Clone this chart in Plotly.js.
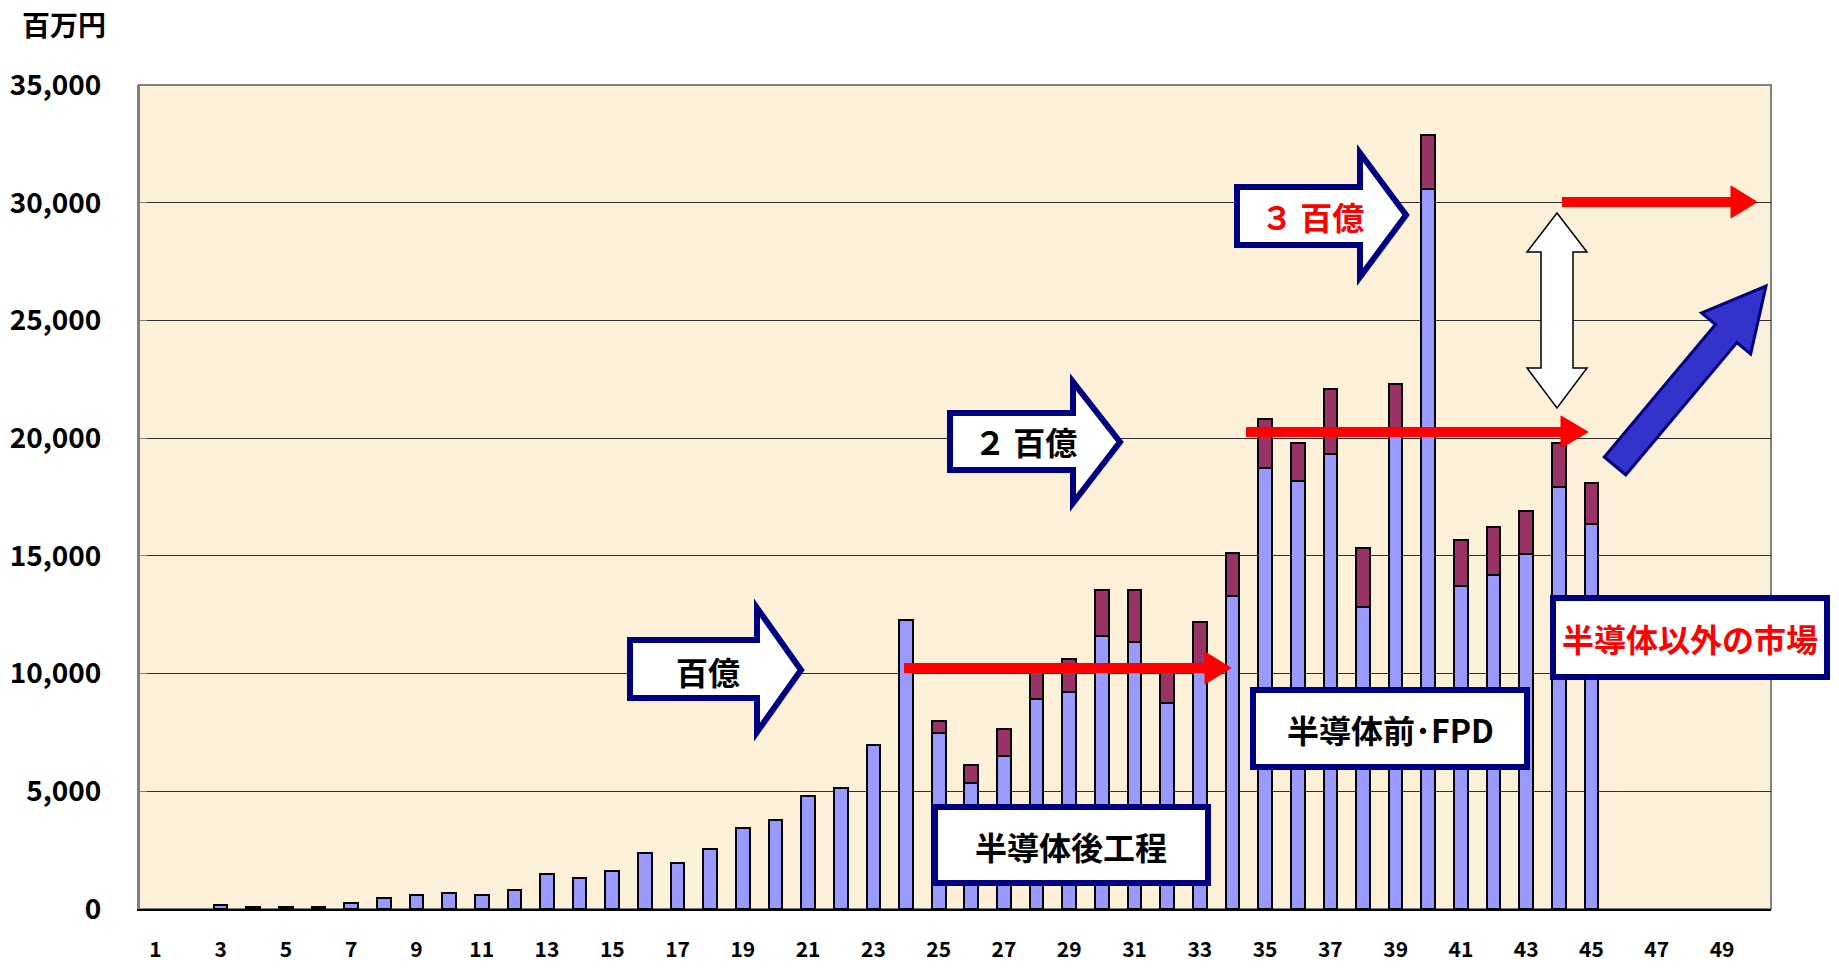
<!DOCTYPE html>
<html>
<head>
<meta charset="utf-8">
<script src="https://cdn.plot.ly/plotly-3.0.1.min.js"></script>
<style>html,body{margin:0;padding:0;background:#fff;}#chart{width:1839px;height:968px;}</style>
</head>
<body>
<div id="chart"></div>
<script>
// ---- data ----
const categories = [1,2,3,4,5,6,7,8,9,10,11,12,13,14,15,16,17,18,19,20,21,22,23,24,25,26,27,28,29,30,31,32,33,34,35,36,37,38,39,40,41,42,43,44,45,46,47,48,49,50];
const semiFpdValues = [null,null,150,100,100,100,250,450,600,700,600,800,1500,1300,1600,2400,1950,2550,3440,3770,4790,5130,6950,12280,7480,5350,6480,8900,9220,11600,11350,8750,10300,13300,18740,18180,19340,12810,20080,30570,13720,14190,15080,17910,16350,null,null,null,null,null];
const otherMarketValues = [null,null,null,null,null,null,null,null,null,null,null,null,null,null,null,null,null,null,null,null,null,null,null,null,490,780,1160,1300,1380,1940,2190,1450,1900,1840,2090,1620,2730,2510,2200,2290,1960,2050,1840,1870,1750,null,null,null,null,null];
const tickValues = [1,3,5,7,9,11,13,15,17,19,21,23,25,27,29,31,33,35,37,39,41,43,45,47,49];
const tickLabels = ['1','3','5','7','9','11','13','15','17','19','21','23','25','27','29','31','33','35','37','39','41','43','45','47','49'];
const yTickValues = [0,5000,10000,15000,20000,25000,30000,35000];
const yTickLabels = ['0','5,000','10,000','15,000','20,000','25,000','30,000','35,000'];

// ---- layout geometry (pixels of the 1839x968 figure) ----
const W = 1839, H = 968;
const PL = 139, PR = 1771, PT = 85, PB = 909;
function px(x){ return (x - PL) / (PR - PL); }
function py(y){ return (PB - y) / (PB - PT); }
function pathFrom(pts){
  return 'M ' + pts.map(p => px(p[0]).toFixed(5) + ',' + py(p[1]).toFixed(5)).join(' L ') + ' Z';
}
function blockArrow(bx0, hx, by0, by1, hy0, hy1, tx, ty){
  return pathFrom([[bx0,by0],[hx,by0],[hx,hy0],[tx,ty],[hx,hy1],[hx,by1],[bx0,by1]]);
}
const FONT = '"Noto Sans CJK JP", "Noto Sans", sans-serif';
const NAVY = '#000080';

const shapes = [];
// plot border
shapes.push({type:'rect', xref:'paper', yref:'paper', x0:0, x1:1, y0:0, y1:1, line:{color:'#808080', width:2}, layer:'below'});

// block arrows
function addBlock(path){ shapes.push({type:'path', xref:'paper', yref:'paper', path:path, fillcolor:'#ffffff', line:{color:NAVY, width:6}}); }
addBlock(blockArrow(630, 757, 640, 698, 608, 732, 801, 670));
addBlock(blockArrow(950, 1073, 413, 470, 382, 503, 1120, 442));
addBlock(blockArrow(1237, 1360, 187, 245, 153, 277, 1406, 215));

// boxes
function addBox(x0,y0,x1,y1){ shapes.push({type:'rect', xref:'paper', yref:'paper', x0:px(x0), x1:px(x1), y0:py(y1), y1:py(y0), fillcolor:'#ffffff', line:{color:NAVY, width:6}}); }
addBox(935, 807, 1208, 883);
addBox(1253, 690, 1527, 767);
addBox(1553, 598, 1827, 677);

// red arrows
function addRed(x0, x1, y, headBack){
  shapes.push({type:'line', xref:'paper', yref:'paper', x0:px(x0), x1:px(headBack+4), y0:py(y), y1:py(y), line:{color:'#ff0000', width:10}});
  shapes.push({type:'path', xref:'paper', yref:'paper', path:pathFrom([[headBack, y-16],[x1, y],[headBack, y+16]]), fillcolor:'#ff0000', line:{color:'#ff0000', width:1}});
}
addRed(904, 1231, 668, 1205);
addRed(1246, 1588, 432, 1561);
addRed(1562, 1757, 202, 1731);

// white double arrow
shapes.push({type:'path', xref:'paper', yref:'paper', fillcolor:'#ffffff', line:{color:'#000000', width:1.5},
  path: pathFrom([[1557,213],[1587,252],[1573,252],[1573,368],[1587,368],[1557,408],[1527,368],[1541,368],[1541,252],[1527,252]])});

// blue diagonal arrow
(function(){
  const tail = [1615, 466], tip = [1766, 286];
  const dx = tip[0]-tail[0], dy = tip[1]-tail[1];
  const L = Math.hypot(dx, dy); const ux = dx/L, uy = dy/L; const nx = -uy, ny = ux;
  const bw = 14, hw = 32, hl = 62;
  const hb = [tip[0]-ux*hl, tip[1]-uy*hl];
  const pts = [
    [tail[0]+nx*bw, tail[1]+ny*bw],
    [hb[0]+nx*bw, hb[1]+ny*bw],
    [hb[0]+nx*hw, hb[1]+ny*hw],
    tip,
    [hb[0]-nx*hw, hb[1]-ny*hw],
    [hb[0]-nx*bw, hb[1]-ny*bw],
    [tail[0]-nx*bw, tail[1]-ny*bw]
  ];
  shapes.push({type:'path', xref:'paper', yref:'paper', path:pathFrom(pts), fillcolor:'#3333cc', line:{color:NAVY, width:3}});
})();

function ann(text, x, y, color, size){
  return {text:'<b>'+text+'</b>', xref:'paper', yref:'paper', x:px(x), y:py(y), showarrow:false, xanchor:'center', yanchor:'middle',
    font:{family:FONT, size:size||32, color:color||'#000000'}};
}
const annotations = [
  {text:'<b>百万円</b>', xref:'paper', yref:'paper', x:px(64), y:py(24), showarrow:false, xanchor:'center', yanchor:'middle', font:{family:FONT, size:28, color:'#000'}},
  ann('百億', 708, 671),
  ann('２ 百億', 1025, 441),
  ann('３ 百億', 1312, 216, '#ff0000'),
  ann('半導体後工程', 1071, 846),
  ann('半導体前･FPD', 1390, 729),
  ann('半導体以外の市場', 1690, 638, '#ff0000')
];

const traces = [
  {type:'bar', name:'半導体・FPD', x:categories, y:semiFpdValues, marker:{color:'#9999ff', line:{color:'#000000', width:2}}, hoverinfo:'x+y'},
  {type:'bar', name:'半導体以外', x:categories, y:otherMarketValues, marker:{color:'#993366', line:{color:'#000000', width:2}}, hoverinfo:'x+y'}
];

const layout = {
  width:W, height:H,
  margin:{l:PL, r:W-PR, t:PT, b:H-PB, pad:0},
  paper_bgcolor:'#ffffff', plot_bgcolor:'#fcf0d9',
  barmode:'stack', bargap:0.58, showlegend:false,
  font:{family:FONT, color:'#000'},
  xaxis:{range:[0.5,50.5], tickmode:'array', tickvals:tickValues, ticktext:tickLabels, showgrid:false, zeroline:false,
    showline:true, linecolor:'#000000', linewidth:2, ticks:'', ticklabelstandoff:21,
    tickfont:{family:FONT, size:21, color:'#000', weight:'bold'}, fixedrange:true},
  yaxis:{range:[0,35000], tickmode:'array', tickvals:yTickValues, ticktext:yTickLabels, showgrid:true, gridcolor:'#303030', gridwidth:1,
    zeroline:false, showline:true, linecolor:'#808080', linewidth:2, ticks:'inside', ticklen:8, tickcolor:'#808080',
    ticklabelstandoff:30, tickfont:{family:FONT, size:28, color:'#000', weight:'bold'}, fixedrange:true},
  shapes:shapes, annotations:annotations
};
Plotly.newPlot('chart', traces, layout, {displayModeBar:false, staticPlot:true});
</script>
</body>
</html>
